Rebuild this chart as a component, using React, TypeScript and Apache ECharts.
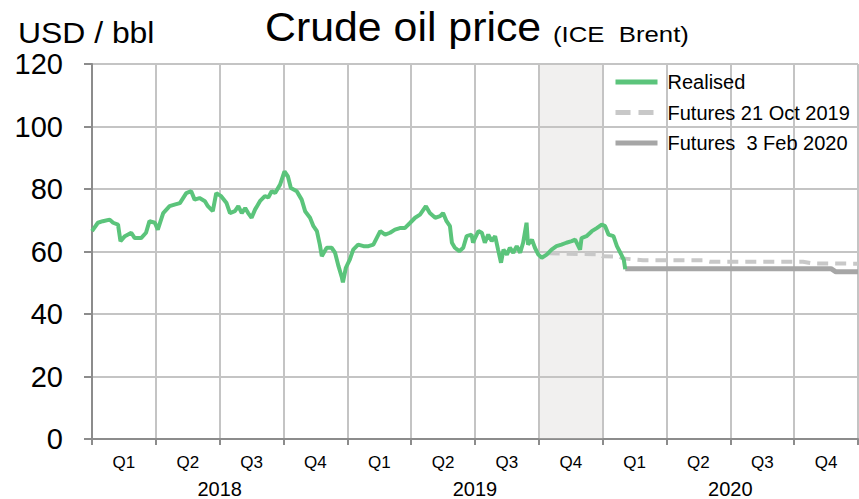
import React, { useEffect, useRef } from "react";
import * as echarts from "echarts";

// x position is in weeks since 1 Jan 2018 (52 weeks per year, 13 per quarter)
const realisedWeeks = [
  0, 1.2, 2.2, 3.6, 4.3, 5.3, 5.8, 6.7, 8, 8.7, 10, 11, 11.7, 12.8, 13.4, 14.5, 15.8, 16.8, 17.9, 19.2,
  20.2, 20.9, 21.9, 23, 23.6, 24.6, 25.3, 26.3, 27.4, 28.1, 29.1, 29.8, 30.5, 31.2, 31.8, 32.5, 33.2, 34.2, 35.2, 35.9,
  36.6, 37.3, 38.3, 39.2, 39.9, 40.5, 41.7, 42.7, 43.4, 44.4, 45.1, 45.8, 46.4, 46.8, 47.8, 48.8, 49.5, 50.2, 50.9, 51.1,
  51.7, 52.5, 53.2, 54.2, 55.3, 56.3, 57.3, 58.7, 59.7, 60.7, 61.7, 62.7, 63.7, 64.8, 65.8, 66.8, 68, 68.8, 69.9, 70.9,
  71.5, 72.2, 72.9, 73.3, 73.9, 74.8, 75.6, 76.3, 77.3, 77.6, 78, 78.7, 79.4, 80, 80.7, 81.4, 82.1, 82.7, 83.3, 83.8,
  84.5, 85.1, 85.8, 86.5, 87.2, 87.8, 88.5, 88.8, 89.6, 90.2, 90.9, 91.6, 92.6, 93.6, 94.6, 95.6, 96.6, 97.7, 98.4, 99.4,
  99.7, 100.7, 101.8, 102.8, 103.8, 104.5, 105.2, 106.2, 106.9, 107.6, 108.3, 108.6,
];
const realisedPrices = [
  66.5, 69.2, 69.7, 70.2, 69.2, 68.6, 63.3, 64.9, 66, 64.3, 64.3, 66, 69.7, 69.2, 67, 72.3, 74.5, 75, 75.5, 78.7,
  79.3, 76.6, 77.1, 76.1, 74.5, 72.9, 78.7, 77.7, 75.5, 72.3, 72.9, 74.5, 72.3, 73.9, 72.3, 70.8, 73.4, 76.1, 77.7, 77.3,
  79.3, 78.7, 81.4, 85.6, 84, 80.3, 79.3, 76.6, 72.9, 70.8, 68.1, 66.5, 62.2, 58.5, 61.2, 61.2, 59.6, 55.3, 51.6, 50.1,
  54.8, 57.4, 60.6, 62.2, 61.7, 61.7, 62.2, 66.5, 65.4, 66, 67, 67.5, 67.5, 69.2, 70.8, 71.8, 74.5, 72.3, 70.8, 71.3,
  72.3, 69.7, 68.1, 62.8, 61.2, 60.1, 61.2, 64.9, 65.4, 62.8, 64.3, 66.5, 66, 62.8, 65.4, 63.3, 64.9, 60.6, 56.4, 60.6,
  59, 61.2, 59.6, 61.7, 59.6, 62.8, 69.2, 62.2, 63.8, 61.2, 59, 58, 59, 60.6, 61.7, 62.2, 62.8, 63.3, 63.8, 60.6,
  64.3, 64.9, 66.5, 67.5, 68.6, 68.1, 65.4, 64.9, 61.7, 59.6, 57.4, 54.3,
];

const futuresOctWeeks = [93, 103.5, 104, 107.5, 108, 112.2, 124.4, 125.9, 144.8, 146.8, 156];
const futuresOctPrices = [59.4, 59.1, 58.5, 58.3, 57.8, 57.2, 57.2, 56.7, 56.7, 56.2, 56.1];

const futuresFebWeeks = [108.6, 150.5, 151.5, 156];
const futuresFebPrices = [54.5, 54.5, 53.5, 53.5];

const quarterLabels = ["Q1", "Q2", "Q3", "Q4", "Q1", "Q2", "Q3", "Q4", "Q1", "Q2", "Q3", "Q4"];
const yearLabels = ["2018", "2019", "2020"];
const shadedWeeks = [91, 104];

const zip = (xs: number[], ys: number[]) => xs.map((x, i) => [x, ys[i]]);

export default function App() {
  const ref = useRef<HTMLDivElement>(null);
  useEffect(() => {
    document.body.style.margin = "0";
    const chart = echarts.init(ref.current!, undefined, { renderer: "svg" });
    const font = "Liberation Sans, Arial, sans-serif";
    const gridColor = "#c4c4c4";
    const green = "#5bc47b";
    const light = "#c8c8c8";
    const dark = "#a6a6a6";
    chart.setOption({
      animation: false,
      textStyle: { fontFamily: font },
      grid: { left: 92, right: 1, top: 64, bottom: 59 },
      graphic: [
        {
          type: "text",
          x: 18,
          y: 18,
          scaleX: 1.1,
          style: { text: "USD / bbl", font: `29px ${font}`, fill: "#000", textVerticalAlign: "top" },
        },
        {
          type: "text",
          x: 265,
          y: 6,
          scaleX: 1.045,
          style: { text: "Crude oil price", font: `41px ${font}`, fill: "#000", textVerticalAlign: "top" },
        },
        {
          type: "text",
          x: 553,
          y: 22,
          scaleX: 1.12,
          style: { text: "(ICE  Brent)", font: `23px ${font}`, fill: "#000", textVerticalAlign: "top" },
        },
      ],
      legend: {
        orient: "vertical",
        left: 608,
        top: 67,
        itemWidth: 42,
        itemHeight: 14,
        itemGap: 10.5,
        itemStyle: { opacity: 0 },
        textStyle: { fontSize: 20, color: "#000", fontFamily: font, padding: [0, 0, 0, 5] },
        data: [
          { name: "Realised", lineStyle: { width: 5, color: green } },
          { name: "Futures 21 Oct 2019", lineStyle: { width: 5, color: light, type: [15, 8] } },
          { name: "Futures  3 Feb 2020", lineStyle: { width: 5, color: dark } },
        ],
      },
      xAxis: [
        {
          type: "value",
          min: 0,
          max: 156,
          interval: 13,
          axisLine: { show: true, onZero: false, lineStyle: { color: "#8c8c8c", width: 2 } },
          axisTick: { show: true, length: 6, lineStyle: { color: "#8c8c8c", width: 2 } },
          axisLabel: { show: false },
          splitLine: { show: true, lineStyle: { color: gridColor, width: 2 } },
        },
        {
          type: "category",
          data: quarterLabels,
          position: "bottom",
          axisLine: { show: false },
          axisTick: { show: false },
          axisLabel: { fontSize: 17, color: "#000", margin: 15, fontFamily: font },
          splitLine: { show: false },
        },
        {
          type: "category",
          data: yearLabels,
          position: "bottom",
          offset: 26,
          axisLine: { show: false },
          axisTick: { show: false },
          axisLabel: { fontSize: 20, color: "#000", margin: 14, fontFamily: font },
          splitLine: { show: false },
        },
      ],
      yAxis: {
        type: "value",
        min: 0,
        max: 120,
        interval: 20,
        axisLine: { show: true, lineStyle: { color: "#8c8c8c", width: 2 } },
        axisTick: { show: true, length: 8, lineStyle: { color: "#8c8c8c", width: 2 } },
        axisLabel: { fontSize: 29, color: "#000", margin: 29, fontFamily: font },
        splitLine: { show: true, lineStyle: { color: gridColor, width: 2 } },
      },
      series: [
        {
          name: "shade",
          type: "line",
          data: [],
          silent: true,
          markArea: {
            silent: true,
            itemStyle: { color: "rgba(200,196,192,0.26)" },
            data: [[{ xAxis: shadedWeeks[0] }, { xAxis: shadedWeeks[1] }]],
          },
        },
        {
          name: "Futures 21 Oct 2019",
          type: "line",
          symbol: "none",
          data: zip(futuresOctWeeks, futuresOctPrices),
          lineStyle: { color: light, width: 4, type: [11, 7] },
          itemStyle: { color: light },
          z: 3,
        },
        {
          name: "Futures  3 Feb 2020",
          type: "line",
          symbol: "none",
          data: zip(futuresFebWeeks, futuresFebPrices),
          lineStyle: { color: dark, width: 5 },
          itemStyle: { color: dark },
          z: 4,
        },
        {
          name: "Realised",
          type: "line",
          symbol: "none",
          data: zip(realisedWeeks, realisedPrices),
          lineStyle: { color: green, width: 4 },
          itemStyle: { color: green },
          z: 5,
        },
      ],
    });
    return () => chart.dispose();
  }, []);
  return <div ref={ref} style={{ width: 859, height: 499 }} />;
}
